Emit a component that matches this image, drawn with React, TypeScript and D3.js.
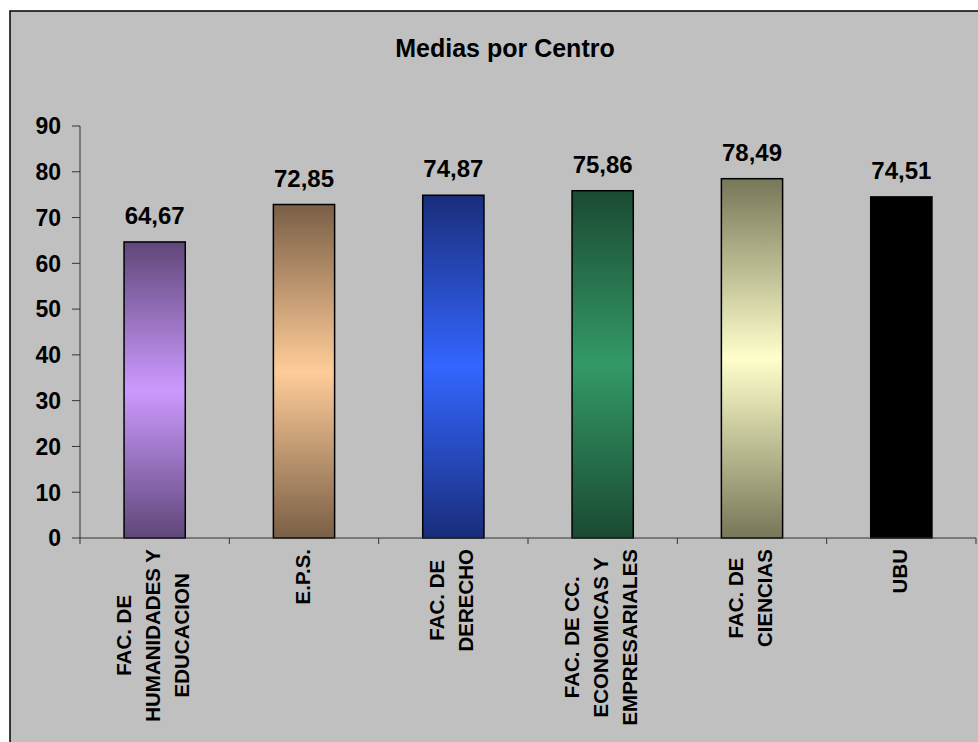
import React, { useEffect, useRef } from "react";
import * as d3 from "d3";

const categories: string[][] = [
  ["FAC. DE", "HUMANIDADES Y", "EDUCACION"],
  ["E.P.S."],
  ["FAC. DE", "DERECHO"],
  ["FAC. DE CC.", "ECONOMICAS Y", "EMPRESARIALES"],
  ["FAC. DE", "CIENCIAS"],
  ["UBU"],
];
const values: number[] = [64.67, 72.85, 74.87, 75.86, 78.49, 74.51];
const valueLabels: string[] = ["64,67", "72,85", "74,87", "75,86", "78,49", "74,51"];
const yTicks: number[] = [0, 10, 20, 30, 40, 50, 60, 70, 80, 90];
const darkColors: string[] = ["#5f4779", "#7a5f46", "#1a2d7b", "#1a4a32", "#777759", "#000000"];
const lightColors: string[] = ["#cc99ff", "#ffcc99", "#3366ff", "#339966", "#ffffcc", "#000000"];
const title = "Medias por Centro";

const W = 978;
const H = 742;
const FONT = "'Liberation Sans', Arial, sans-serif";

export default function App() {
  const ref = useRef<SVGSVGElement | null>(null);

  useEffect(() => {
    const svg = d3.select(ref.current);
    svg.selectAll("*").remove();

    const x0 = 80, x1 = 976, yTop = 126, yBot = 538;
    const x = d3
      .scaleBand<number>()
      .domain(values.map((_, i) => i))
      .range([x0, x1])
      .paddingInner(0.59)
      .paddingOuter(0.295);
    const y = d3.scaleLinear().domain([0, 90]).range([yBot, yTop]);

    const defs = svg.append("defs");
    values.forEach((_, i) => {
      const g = defs
        .append("linearGradient")
        .attr("id", `grad${i}`)
        .attr("x1", 0).attr("y1", 0).attr("x2", 0).attr("y2", 1);
      g.append("stop").attr("offset", "0%").attr("stop-color", darkColors[i]);
      g.append("stop").attr("offset", "50%").attr("stop-color", lightColors[i]);
      g.append("stop").attr("offset", "100%").attr("stop-color", darkColors[i]);
    });

    // background with border
    svg.append("rect").attr("x", 0).attr("y", 0).attr("width", W).attr("height", H).attr("fill", "#ffffff");
    svg
      .append("rect")
      .attr("x", 10)
      .attr("y", 11)
      .attr("width", W + 10)
      .attr("height", H + 10)
      .attr("fill", "#c0c0c0")
      .attr("stroke", "#000")
      .attr("stroke-width", 1.5);

    // title
    svg
      .append("text")
      .attr("x", 505)
      .attr("y", 57)
      .attr("text-anchor", "middle")
      .attr("font-family", FONT)
      .attr("font-weight", "bold")
      .attr("font-size", 25)
      .attr("fill", "#000")
      .text(title);

    // y axis
    const yAxis = svg.append("g");
    yAxis.append("line").attr("x1", x0).attr("x2", x0).attr("y1", yTop).attr("y2", yBot).attr("stroke", "#333").attr("stroke-width", 1);
    yTicks.forEach((t) => {
      yAxis.append("line").attr("x1", 72).attr("x2", x0).attr("y1", y(t)).attr("y2", y(t)).attr("stroke", "#333").attr("stroke-width", 1);
      yAxis
        .append("text")
        .attr("x", 61)
        .attr("y", y(t))
        .attr("dy", "0.36em")
        .attr("text-anchor", "end")
        .attr("font-family", FONT)
        .attr("font-weight", "bold")
        .attr("font-size", 23)
        .attr("fill", "#000")
        .text(String(t));
    });

    // bars
    values.forEach((v, i) => {
      svg
        .append("rect")
        .attr("x", x(i)!)
        .attr("y", y(v))
        .attr("width", x.bandwidth())
        .attr("height", yBot - y(v))
        .attr("fill", `url(#grad${i})`)
        .attr("stroke", "#000")
        .attr("stroke-width", 1.5);
      svg
        .append("text")
        .attr("x", x(i)! + x.bandwidth() / 2)
        .attr("y", y(v) - 18)
        .attr("text-anchor", "middle")
        .attr("font-family", FONT)
        .attr("font-weight", "bold")
        .attr("font-size", 24)
        .attr("fill", "#000")
        .text(valueLabels[i]);
    });

    // x axis
    const xAxis = svg.append("g");
    xAxis.append("line").attr("x1", x0).attr("x2", x1).attr("y1", yBot).attr("y2", yBot).attr("stroke", "#333").attr("stroke-width", 1);
    const step = x.step();
    for (let k = 0; k <= values.length; k++) {
      const tx = x0 + k * step;
      xAxis.append("line").attr("x1", tx).attr("x2", tx).attr("y1", yBot).attr("y2", yBot + 6).attr("stroke", "#333").attr("stroke-width", 1);
    }

    // category labels (rotated, centered lines, top-anchored)
    const labelTop = 549;
    const lineGap = 29;
    categories.forEach((lines, i) => {
      const cx = x(i)! + x.bandwidth() / 2 - 2;
      const g = xAxis.append("g");
      const texts = lines.map((ln) =>
        g
          .append("text")
          .attr("font-family", FONT)
          .attr("font-weight", "bold")
          .attr("font-size", 20.5)
          .attr("fill", "#000")
          .attr("text-anchor", "middle")
          .text(ln)
      );
      const lens = texts.map((t) => (t.node() as SVGTextElement).getComputedTextLength());
      const maxLen = Math.max(...lens);
      const cy = labelTop + maxLen / 2;
      texts.forEach((t, j) => {
        const lx = cx + (j - (lines.length - 1) / 2) * lineGap;
        t.attr("transform", `translate(${lx + 7.5},${cy}) rotate(-90)`);
      });
    });
  }, []);

  return (
    <svg
      ref={ref}
      width={W}
      height={H}
      style={{ position: "absolute", left: 0, top: 0, display: "block" }}
    />
  );
}
